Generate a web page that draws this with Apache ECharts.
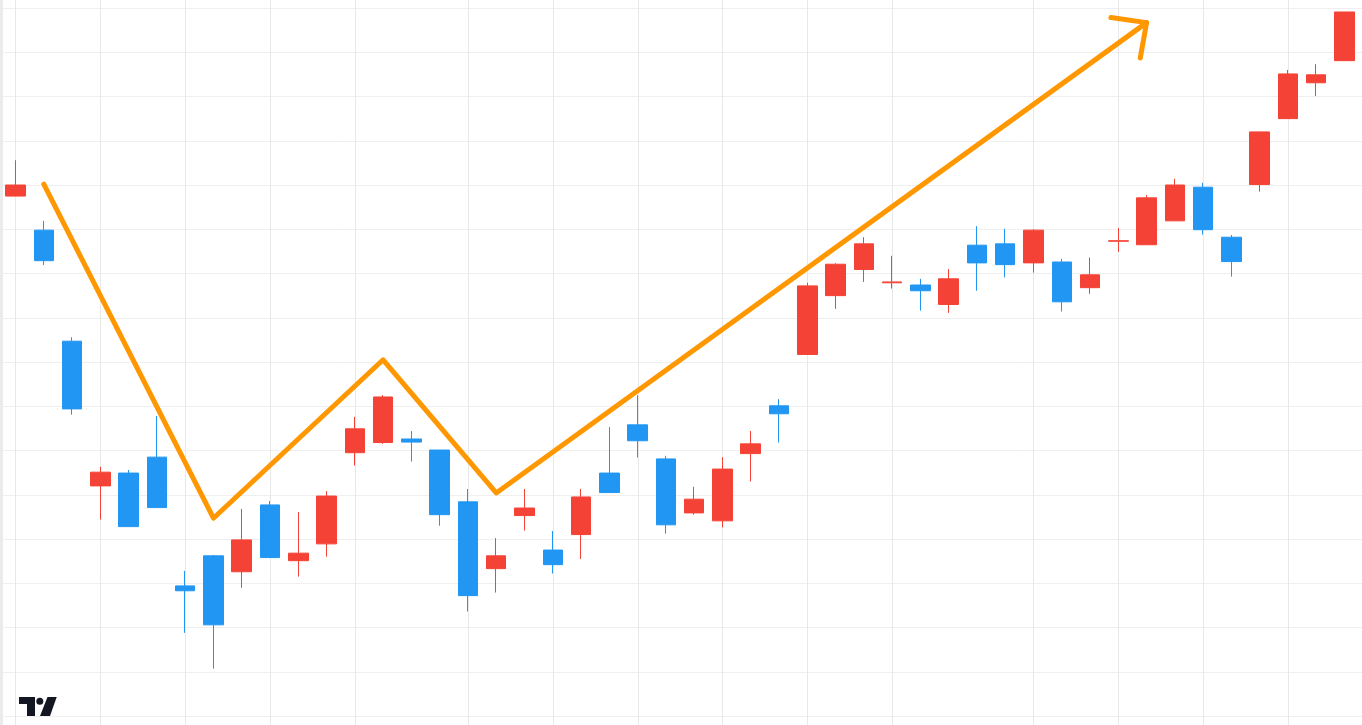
<!DOCTYPE html>
<html>
<head>
<meta charset="utf-8">
<script src="https://cdn.jsdelivr.net/npm/echarts@6/dist/echarts.min.js"></script>
<style>
html,body{margin:0;padding:0;background:#ffffff;overflow:hidden;}
#chart{width:1362px;height:725px;}
</style>
</head>
<body>
<div id="chart"></div>
<script>
// ---- Data ----
const categories = ['1','2','3','4','5','6','7','8','9','10','11','12','13','14','15','16',
  '17','18','19','20','21','22','23','24','25','26','27','28','29','30','31','32',
  '33','34','35','36','37','38','39','40','41','42','43','44','45','46','47','48'];

const opens  = [217.5,209.8,184.7,152.0,154.9,158.5,129.4,136.2,132.6,147.7,135.1,138.9,
                159.5,161.8,162.6,160.1,148.4,133.3,145.3,137.5,141.0,154.9,165.8,158.1,
                145.9,144.1,159.3,170.1,181.7,195.0,200.9,197.9,197.4,193.0,206.4,206.7,
                202.4,202.6,196.8,207.3,206.5,211.9,219.5,208.2,220.1,235.0,243.1,248.1];
const closes = [220.0,202.9,169.4,155.1,142.8,147.1,128.3,120.6,139.8,135.8,136.8,149.7,
                164.9,172.1,161.9,145.5,127.2,136.2,147.0,134.2,149.5,150.5,162.2,143.2,
                149.0,155.8,161.5,168.3,197.2,202.1,206.7,198.1,196.1,198.8,202.4,202.0,
                209.8,193.6,199.7,207.4,217.1,220.0,209.9,202.7,232.0,245.1,244.9,259.1];
const lows   = [217.5,201.9,168.1,144.4,142.8,147.0,118.8,110.7,129.0,135.8,131.5,136.0,
                156.6,161.5,157.5,143.0,123.6,127.9,141.9,132.2,135.5,150.5,158.4,141.2,
                145.5,142.6,153.0,161.8,181.7,192.0,198.1,196.6,191.6,191.1,196.1,199.1,
                200.2,191.4,195.4,204.9,206.5,211.9,208.8,199.3,218.5,235.0,240.1,248.1];
const highs  = [225.6,211.9,185.6,156.3,155.6,167.8,132.8,136.4,146.8,148.6,146.1,150.8,
                167.6,172.5,164.4,160.1,151.3,140.2,151.3,141.8,151.3,165.3,172.5,158.8,
                151.8,158.5,164.4,171.6,197.9,202.3,208.2,204.0,198.8,201.0,210.7,210.1,
                210.0,203.3,203.6,210.3,217.7,221.4,220.5,208.7,232.0,246.0,247.3,259.1];

// vertical grid columns (category indexes)
const gridColumns = [0,3,6,9,12,16,19,22,25,28,31,36,39,42,45];

// hand-drawn arrow annotation (category index, price)
const arrowIdx = [1, 7, 13, 17, 40];
const arrowVal = [220.2, 144.7, 180.5, 150.4, 256.7];

// horizontal grid range
const yMin = 100, yMax = 260, yStep = 10;

// ---- Chart ----
const chart = echarts.init(document.getElementById('chart'), null, {renderer: 'canvas'});
const pxPerUnit = 708 / (yMax - yMin);

const candleData = opens.map((o, i) => [o, closes[i], lows[i], highs[i]]);

const option = {
  backgroundColor: '#ffffff',
  animation: false,
  grid: [
    {left: 0, right: 0, top: 8, bottom: 9},
    {left: 1.36, right: 3.34, top: 0, bottom: 0}
  ],
  xAxis: [
    {gridIndex: 0, type: 'value', min: 0, max: 1, show: false},
    {gridIndex: 1, type: 'category', data: categories, boundaryGap: true,
     axisLine: {show: false}, axisTick: {show: false}, axisLabel: {show: false},
     splitLine: {show: false}}
  ],
  yAxis: [
    {gridIndex: 0, type: 'value', min: yMin, max: yMax, interval: yStep,
     axisLine: {show: false}, axisTick: {show: false}, axisLabel: {show: false},
     splitLine: {show: true, lineStyle: {color: '#efefef', width: 1}}},
    {gridIndex: 1, type: 'value', min: yMin - 9 / pxPerUnit, max: yMax + 8 / pxPerUnit,
     show: false, splitLine: {show: false}}
  ],
  series: [
    {
      type: 'custom',
      name: 'vgrid',
      xAxisIndex: 1, yAxisIndex: 1,
      silent: true, clip: false, z: 1,
      data: gridColumns.map(i => [i]),
      renderItem: function (params, api) {
        const x = Math.round(api.coord([api.value(0), yMin])[0]) + 0.5;
        const cs = params.coordSys;
        return {
          type: 'line',
          shape: {x1: x, y1: cs.y, x2: x, y2: cs.y + cs.height},
          style: {stroke: '#e8e8e8', lineWidth: 1}
        };
      }
    },
    {
      type: 'candlestick',
      name: 'price',
      xAxisIndex: 1, yAxisIndex: 1,
      z: 3,
      barWidth: 20,
      data: candleData,
      itemStyle: {
        color: '#F44336', color0: '#2196F3',
        borderColor: '#F44336', borderColor0: '#2196F3',
        borderWidth: 1
      }
    },
    {
      type: 'custom',
      name: 'arrow',
      xAxisIndex: 1, yAxisIndex: 1,
      silent: true, clip: false, z: 5,
      data: [[0]],
      renderItem: function (params, api) {
        const pts = arrowIdx.map((ix, k) => api.coord([ix, arrowVal[k]]));
        const tip = pts[pts.length - 1];
        const prev = pts[pts.length - 2];
        const dx = prev[0] - tip[0], dy = prev[1] - tip[1];
        const len = Math.sqrt(dx * dx + dy * dy);
        const ux = dx / len, uy = dy / len;
        const headLen = 36, ang = 44 * Math.PI / 180;
        const rot = (a) => [tip[0] + headLen * (ux * Math.cos(a) - uy * Math.sin(a)),
                            tip[1] + headLen * (ux * Math.sin(a) + uy * Math.cos(a))];
        const a1 = rot(ang), a2 = rot(-ang);
        const st = {stroke: '#FF9800', lineWidth: 5, fill: null, lineCap: 'round', lineJoin: 'round'};
        return {
          type: 'group',
          children: [
            {type: 'polyline', shape: {points: pts}, style: st},
            {type: 'polyline', shape: {points: [a1, tip, a2]}, style: st}
          ]
        };
      }
    }
  ],
  graphic: [
    {type: 'rect', left: 0, top: 0, z: 100, shape: {x: 0, y: 0, width: 3, height: 725},
     style: {fill: '#ebebeb'}, silent: true},
    {type: 'group', left: 19, top: 697, z: 100, silent: true, children: [
      {type: 'polygon', shape: {points: [[0,0],[16,0],[16,19],[8,19],[8,7],[0,7]]}, style: {fill: '#131722'}},
      {type: 'circle', shape: {cx: 20.8, cy: 4.3, r: 3.5}, style: {fill: '#131722'}},
      {type: 'polygon', shape: {points: [[28.5,0],[37.7,0],[31,19],[21,19]]}, style: {fill: '#131722'}}
    ]}
  ]
};
chart.setOption(option);
</script>
</body>
</html>
